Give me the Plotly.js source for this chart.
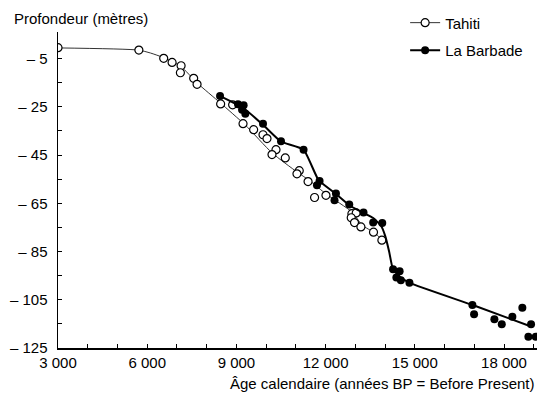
<!DOCTYPE html>
<html>
<head>
<meta charset="utf-8">
<script src="https://cdn.plot.ly/plotly-3.0.1.min.js"></script>
<style>html,body{margin:0;padding:0;background:#fff;}#chart{width:550px;height:396px;}</style>
</head>
<body>
<div id="chart"></div>
<script>
// Data points
const tahitiAge   = [3000, 5720, 6555, 6837, 7140, 7116, 7563, 7677, 8470, 8873, 9223, 9580, 9895, 10029, 10332, 10197, 10644, 11114, 11037, 11410, 11629, 12012, 12885, 13030, 12862, 12972, 13188, 13611, 13893];
const tahitiDepth = [-0.5, -1.5, -4.9, -6.6, -8.0, -10.9, -13.2, -15.7, -23.8, -24.2, -32, -34.5, -36.6, -38.2, -42.8, -44.8, -46.2, -51.5, -52.8, -56, -62.6, -61.7, -69.3, -69, -71, -73, -74.8, -77, -80.3];

const barbadeAge   = [8450, 9055, 9243, 9190, 9300, 9895, 10500, 11259, 11797, 11710, 12348, 12300, 12795, 13275, 13600, 13905, 14270, 14490, 14380, 14531, 14820, 16937, 16994, 17677, 17925, 18281, 18617, 18910, 18820, 19068];
const barbadeDepth = [-20.5, -24, -24.4, -26.2, -27.9, -32, -39.3, -42.8, -55.8, -57.5, -61, -63.8, -65.5, -68.8, -73, -73.2, -92.4, -93.2, -95.8, -96.9, -98, -107.2, -111, -113.1, -115.2, -112, -108.3, -115.2, -120.3, -120.3];

// Fitted curves
const tahitiCurveAge   = [3000, 5705, 6108, 6545, 7116, 7687, 8460, 9300, 10207, 11047, 11484, 12021, 12895, 13231, 13668, 13903];
const tahitiCurveDepth = [-0.6, -1.5, -2.7, -4.6, -8.1, -15.2, -23.4, -32.6, -44.2, -52.1, -55.8, -61.2, -68.7, -74.1, -77.4, -80.3];

const barbadeCurveAge   = [8437, 9233, 9905, 10493, 11259, 11763, 12324, 12794, 13241, 13601, 13870, 14004, 14138, 14263, 14508, 14844, 16971, 18933];
const barbadeCurveDepth = [-20.5, -25.5, -32.6, -39.4, -42.7, -55.4, -60.9, -65.8, -68.8, -71.1, -74.4, -78.5, -85.1, -92.3, -95.6, -98.1, -107.3, -116.2];

const seriesNames = ['Tahiti', 'La Barbade'];

const xTickVals = [3000,4000,5000,6000,7000,8000,9000,10000,11000,12000,13000,14000,15000,16000,17000,18000,19000];
const xTickText = ['3 000','','','6 000','','','9 000','','','12 000','','','15 000','','','18 000',''];
const yTickVals = [-5,-15,-25,-35,-45,-55,-65,-75,-85,-95,-105,-115,-125];
const yTickText = ['\u2013 5','','\u2013 25','','\u2013 45','','\u2013 65','','\u2013 85','','\u2013 105','','\u2013 125'];

const xTitle = 'Âge calendaire (années BP = Before Present)';
const yTitle = 'Profondeur (mètres)';

// Interleave nulls so a lines+markers trace draws only isolated markers (legend glyph shows line + marker)
function isolate(arr) { const out = []; arr.forEach((v, i) => { if (i) out.push(null); out.push(v); }); return out; }

const FONT = 'Liberation Sans, Arial, Helvetica, sans-serif';

const traces = [
  { x: tahitiCurveAge, y: tahitiCurveDepth, mode: 'lines', line: {color: '#333', width: 1, shape: 'spline', smoothing: 0.6}, showlegend: false, hoverinfo: 'skip', legendgroup: 'a' },
  { x: isolate(tahitiAge), y: isolate(tahitiDepth), name: seriesNames[0], mode: 'lines+markers', connectgaps: false,
    line: {color: '#333', width: 1}, marker: {color: '#fff', size: 8, line: {color: '#000', width: 1.2}}, legendgroup: 'a' },
  { x: barbadeCurveAge, y: barbadeCurveDepth, mode: 'lines', line: {color: '#000', width: 2, shape: 'spline', smoothing: 0.4}, showlegend: false, hoverinfo: 'skip', legendgroup: 'b' },
  { x: isolate(barbadeAge), y: isolate(barbadeDepth), name: seriesNames[1], mode: 'lines+markers', connectgaps: false,
    line: {color: '#000', width: 2}, marker: {color: '#000', size: 8, line: {color: '#000', width: 0}}, legendgroup: 'b' }
];

const layout = {
  width: 550, height: 396,
  margin: {l: 57.5, r: 13, t: 32, b: 48, pad: 0, autoexpand: false},
  paper_bgcolor: '#fff', plot_bgcolor: '#fff',
  font: {family: FONT, size: 15, color: '#000'},
  showlegend: true,
  legend: {x: 0.7247, y: 1.081, xanchor: 'left', yanchor: 'top', traceorder: 'grouped', tracegroupgap: 5,
           font: {family: FONT, size: 15, color: '#000'}, bgcolor: 'rgba(0,0,0,0)', borderwidth: 0},
  xaxis: {range: [3000, 19110], showgrid: false, zeroline: false, showline: true, linecolor: '#000', linewidth: 1.5,
          tickmode: 'array', tickvals: xTickVals, ticktext: xTickText, ticks: 'inside', ticklen: 4, tickcolor: '#000', tickwidth: 1,
          tickfont: {family: FONT, size: 15, color: '#000'}, ticklabelstandoff: 0},
  yaxis: {range: [-125, 6], showgrid: false, zeroline: false, showline: true, linecolor: '#000', linewidth: 1.5,
          tickmode: 'array', tickvals: yTickVals, ticktext: yTickText, ticks: 'inside', ticklen: 4, tickcolor: '#000', tickwidth: 1,
          tickfont: {family: FONT, size: 15, color: '#000'}, ticklabelstandoff: 6},
  annotations: [
    {text: yTitle, xref: 'paper', yref: 'paper', x: -0.095, y: 1.044, xanchor: 'left', yanchor: 'middle', showarrow: false,
     font: {family: FONT, size: 15, color: '#000'}},
    {text: xTitle, xref: 'paper', yref: 'paper', x: 1.0, y: -0.113, xanchor: 'right', yanchor: 'middle', showarrow: false,
     font: {family: FONT, size: 15, color: '#000'}}
  ]
};

Plotly.newPlot('chart', traces, layout, {displayModeBar: false, staticPlot: true});
</script>
</body>
</html>
